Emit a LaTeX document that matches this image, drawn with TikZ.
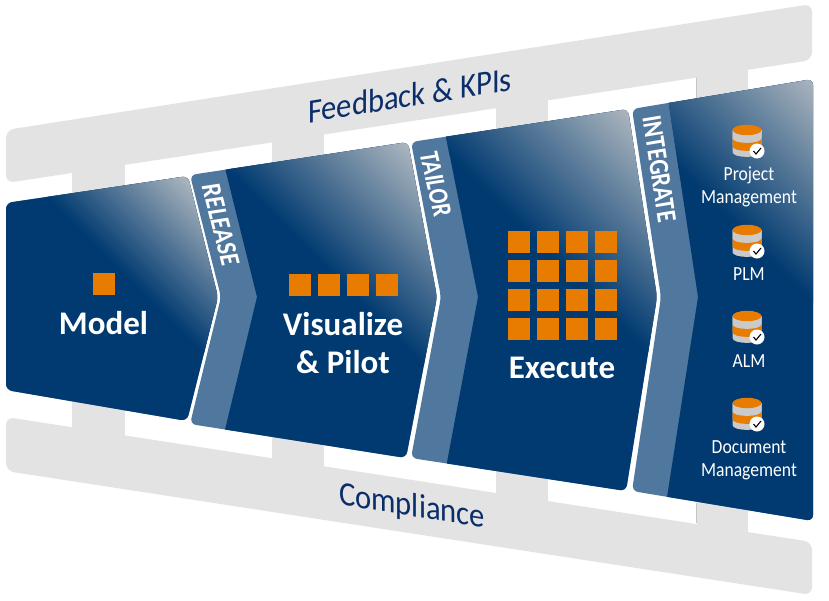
\documentclass[tikz,border=0pt]{standalone}
\usepackage{fontspec}
\setmainfont{Carlito}
\definecolor{bandgray}{HTML}{E3E3E3}
\definecolor{navy}{HTML}{003A70}
\definecolor{stripblue}{HTML}{50779D}
\definecolor{cornergray}{HTML}{ABB5BE}
\definecolor{orangesq}{HTML}{E87C00}
\definecolor{inkblue}{HTML}{0A2D6B}
\definecolor{dbgray}{HTML}{CACACA}
\tikzset{
  band/.style={fill=bandgray,rounded corners=8pt},
  tab/.style={fill=bandgray},
  square/.style={fill=orangesq},
  bigtitle/.style={text=white,font=\bfseries\fontsize{33}{38}\selectfont,align=center,inner sep=0pt},
  bandtext/.style={text=inkblue,font=\fontsize{34}{38}\selectfont,inner sep=0pt},
  striptext/.style={text=white,font=\bfseries\fontsize{28}{30}\selectfont,inner sep=0pt},
  dbtext/.style={text=white,font=\fontsize{20}{23}\selectfont,align=center,inner sep=0pt},
  dbicon/.pic={
    \fill[dbgray] (-14.5,5) -- (-14.5,27) .. controls (-14.5,33.5) and (14.5,33.5) .. (14.5,27) -- (14.5,5) -- cycle;
    \fill[orangesq] (-14.5,13) -- (-14.5,21) .. controls (-14.5,27.5) and (14.5,27.5) .. (14.5,21) -- (14.5,13) -- cycle;
    \fill[dbgray] (-14.5,5) -- (-14.5,13) .. controls (-14.5,19.5) and (14.5,19.5) .. (14.5,13) -- (14.5,5) -- cycle;
    \fill[orangesq] (0,5) ellipse [x radius=14.5pt,y radius=5.2pt];
    \fill[white] (10,26) circle [radius=7.5pt];
    \draw[black,line width=1.1pt] (6.5,26) -- (9,29) -- (14,23);
  }
}
\newcommand{\panelpaint}[5]{%
  \fill[stripblue,rounded corners=6pt] #1;
  \begin{scope}
    \clip[rounded corners=6pt] #1;
    \clip #2;
    \fill[navy] (0,0) rectangle (829,600);
    \shade[transform canvas={shift={(#3,#4)},rotate=-45},bottom color=navy,top color=cornergray]
      (-400pt,0pt) rectangle (400pt,#5pt);
  \end{scope}%
}
\begin{document}
\begin{tikzpicture}[x=1pt,y=-1pt]
\useasboundingbox (0,0) rectangle (829,600);
\fill[white] (0,0) rectangle (829,600);
% tabs
\fill[tab] (72,160) rectangle (125,450);
\fill[tab] (272,130) rectangle (324,480);
\fill[tab] (496,100) rectangle (548,510);
\fill[tab] (697,50) rectangle (748,550);
\draw[bandgray!70!gray,line width=.5pt] (696.5,77) -- (696.5,100);
\draw[bandgray!70!gray,line width=.5pt] (696.5,503) -- (696.5,523);
% bands
\fill[band] (6,130) -- (812,4) -- (812,60) -- (6,183) -- cycle;
\fill[band] (6,417) -- (812,542) -- (812,595) -- (6,471) -- cycle;
\node[bandtext,cm={.9,0.145,0,1,(410,95)},transform shape] (feedback) {Feedback \& KPIs};
\node[bandtext,cm={.9,-0.14,0,1,(412,507)},transform shape] (compliance) {Compliance};
% panels
\panelpaint{(6,203) -- (188,176) -- (218,297) -- (187,421) -- (6,390) -- cycle}
           {(0,0) rectangle (829,600)}{125}{275}{112}
\panelpaint{(190,175) -- (408,142) -- (437,297) -- (406,458) -- (190,424) -- (221,297) -- cycle}
           {(223,160) -- (257,297) -- (223,438) -- (500,500) -- (500,100) -- cycle}{300}{242}{145}
\panelpaint{(411,142) -- (628,109) -- (657,297) -- (626,491) -- (411,458) -- (441,297) -- cycle}
           {(444,127) -- (478,297) -- (445,473) -- (720,520) -- (720,80) -- cycle}{500}{205}{157}
\panelpaint{(632,109) -- (813,79) -- (813,521) -- (632,491) -- (661,297) -- cycle}
           {(667.5,95) -- (698,297) -- (665.5,507) -- (829,540) -- (829,60) -- cycle}{750}{240}{158}
% strip labels
\node[striptext,cm={.21,-.825,.98,.15,(220.7,225)},transform shape] (release) {RELEASE};
\node[striptext,cm={.18,-.776,.98,.15,(435.7,184.3)},transform shape] (tailor) {TAILOR};
\node[striptext,cm={.125,-.82,.985,.165,(659.3,169)},transform shape] (integrate) {INTEGRATE};
% squares
\fill[square] (93,273) rectangle +(22,22);
\foreach \x in {289,318,347,376} \fill[square] (\x,274) rectangle +(22,22);
\foreach \x in {508,537,566,595} \foreach \y in {231,260,289,318}
  \fill[square] (\x,\y) rectangle +(22,22);
% titles
\node[bigtitle] (model) at (103.5,323) {Model};
\node[bigtitle] (visualize) at (343,343) {Visualize\\[0pt]\& Pilot};
\node[bigtitle] (execute) at (562,368) {Execute};
% databases
\pic at (747,125) {dbicon};
\pic at (747,225) {dbicon};
\pic at (747,311) {dbicon};
\pic at (747,398) {dbicon};
\node[dbtext,cm={.88,0,0,1,(749,187)},transform shape] (pm) {Project\\[0pt]Management};
\node[dbtext,cm={.88,0,0,1,(749,274)},transform shape] (plm) {PLM};
\node[dbtext,cm={.88,0,0,1,(749,361)},transform shape] (alm) {ALM};
\node[dbtext,cm={.88,0,0,1,(749,460)},transform shape] (dm) {Document\\[0pt]Management};
\end{tikzpicture}
\end{document}
